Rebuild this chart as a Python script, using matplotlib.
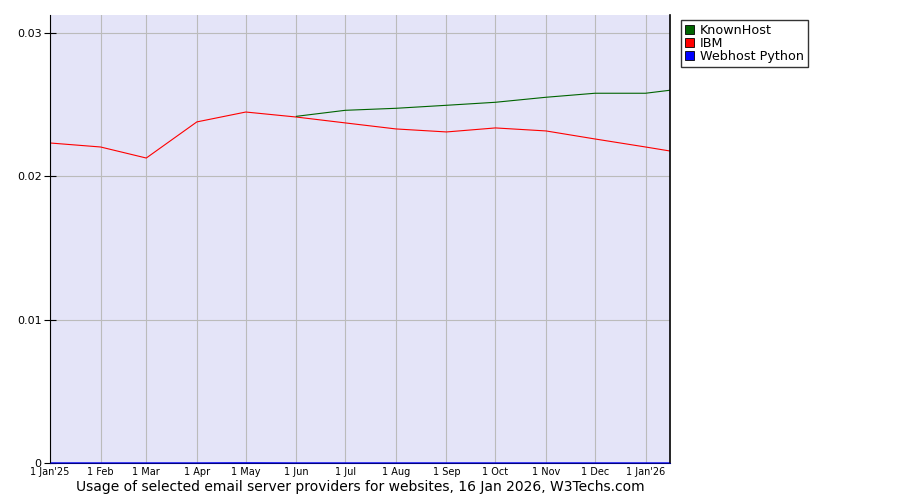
import matplotlib
matplotlib.use('Agg')
import matplotlib.pyplot as plt
import matplotlib.dates as mdates
from matplotlib.patches import Patch
import pandas as pd

matplotlib.rcParams['font.family'] = 'DejaVu Sans'

dates = ['2025-01-01', '2025-02-01', '2025-03-01', '2025-04-01', '2025-05-01',
         '2025-06-01', '2025-07-01', '2025-08-01', '2025-09-01', '2025-10-01',
         '2025-11-01', '2025-12-01', '2026-01-01', '2026-01-16']

ibm = [0.02233, 0.02205, 0.02128, 0.02380, 0.02449, 0.02414, 0.02373,
       0.02331, 0.02310, 0.02338, 0.02317, 0.02261, 0.02205, 0.02177]

knownhost_dates = dates[5:]
knownhost = [0.02419, 0.02461, 0.02475, 0.02496, 0.02517, 0.02552,
             0.02580, 0.02580, 0.02601]

webhost = [0, 0, 0, 0, 0.00001, 0, 0, 0, 0, 0, 0, 0, 0, 0]

tick_dates = dates[:13]
tick_labels = ["1 Jan'25", '1 Feb', '1 Mar', '1 Apr', '1 May', '1 Jun', '1 Jul',
               '1 Aug', '1 Sep', '1 Oct', '1 Nov', '1 Dec', "1 Jan'26"]

series_names = ['KnownHost', 'IBM', 'Webhost Python']
series_colors = ['#006400', '#FF0000', '#0000FF']

x_all = pd.to_datetime(dates)
x_kh = pd.to_datetime(knownhost_dates)

fig = plt.figure(figsize=(9, 5), dpi=100)
ax = fig.add_axes([50 / 900, 37 / 500, 620 / 900, 448 / 500])
ax.set_facecolor('#E4E4F8')

ax.plot(x_all, webhost, color=series_colors[2], lw=1)
ax.plot(x_all, ibm, color=series_colors[1], lw=0.8)
ax.plot(x_kh, knownhost, color=series_colors[0], lw=0.8)

ax.set_xlim(x_all[0], x_all[-1])
ax.set_ylim(0, 0.03126)

ax.set_xticks(pd.to_datetime(tick_dates))
ax.set_xticklabels(tick_labels, fontsize=7)
ax.set_yticks([0, 0.01, 0.02, 0.03])
ax.set_yticklabels(['0', '0.01', '0.02', '0.03'], fontsize=8)
ax.tick_params(axis='x', length=0, pad=3)
ax.tick_params(axis='y', direction='inout', length=8, width=0.8, pad=2)

ax.grid(True, color='#BBBBBB', lw=0.8)
ax.set_axisbelow(True)

ax.spines['top'].set_visible(False)
ax.spines['left'].set_color('black')
ax.spines['right'].set_color('black')
ax.spines['right'].set_linewidth(1.2)
ax.spines['bottom'].set_color('#000080')

ax.set_xlabel('Usage of selected email server providers for websites, 16 Jan 2026, W3Techs.com',
              fontsize=10, labelpad=2)

handles = [Patch(facecolor=c, edgecolor='black', lw=0.6) for c in series_colors]
fig.legend(handles, series_names, loc='upper left', bbox_to_anchor=(681 / 900, 1 - 20 / 500),
           fontsize=9.2, frameon=True, fancybox=False, edgecolor='black',
           handlelength=0.7, handleheight=0.8, handletextpad=0.5, labelspacing=0.0,
           borderpad=0.3, borderaxespad=0)

fig.savefig('out.png', dpi=100)
